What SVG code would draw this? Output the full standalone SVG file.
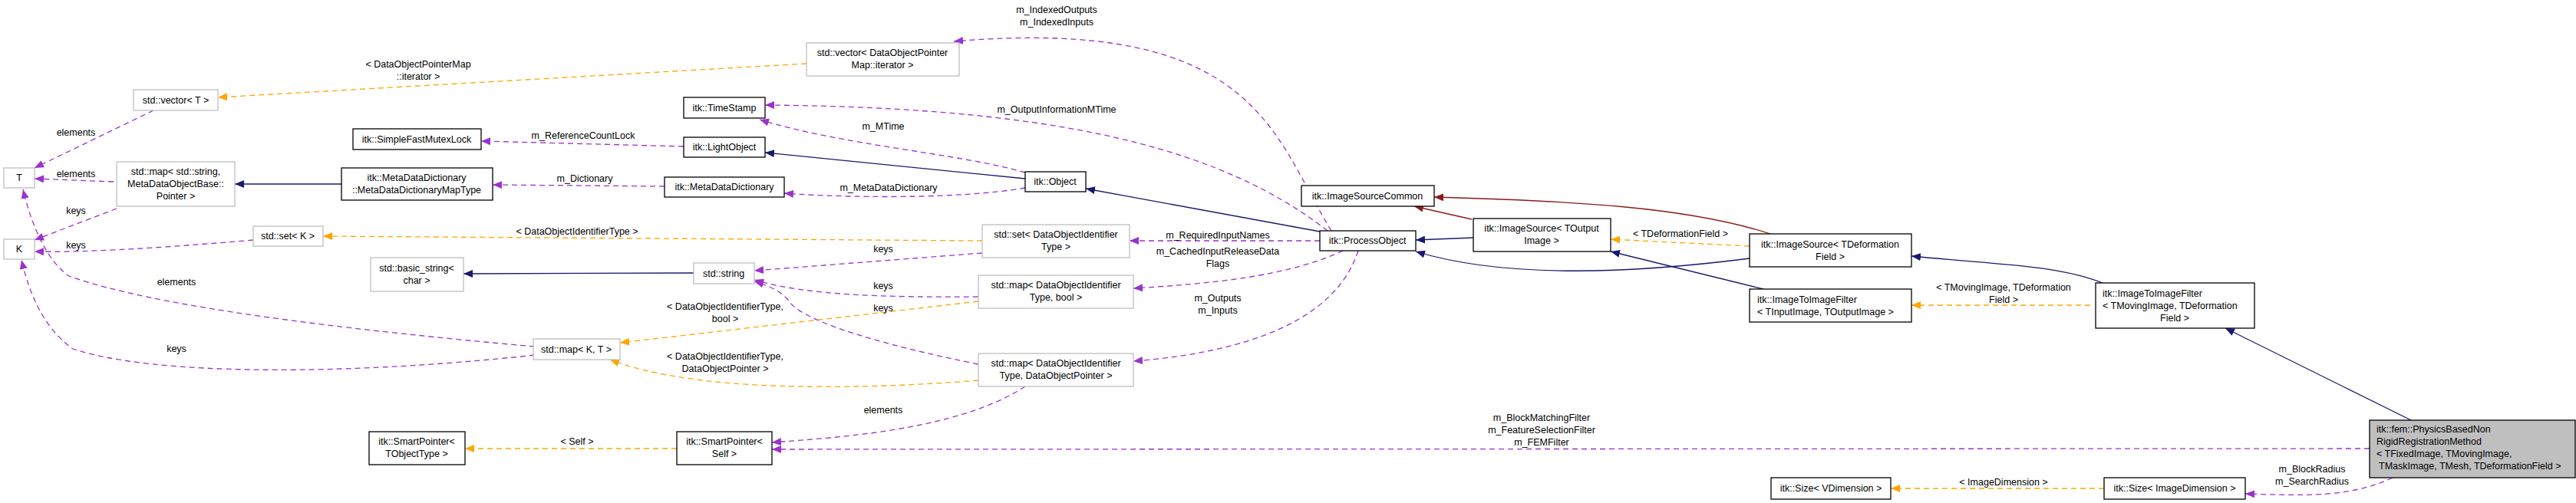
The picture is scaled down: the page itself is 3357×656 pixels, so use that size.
<svg xmlns="http://www.w3.org/2000/svg" width="3357" height="656" viewBox="0 0 3357 656">
<style>
text{font-family:"Liberation Sans",Arial,sans-serif;font-size:12.5px;fill:#000}
.n rect{fill:#fff;stroke:#000;stroke-width:1.3}
.g rect{fill:#fff;stroke:#bfbfbf;stroke-width:1.3}
.c{text-anchor:middle}
.u{fill:none;stroke:#9a32cd;stroke-width:1.3;stroke-dasharray:7,5}
.t{fill:none;stroke:#ffa500;stroke-width:1.3;stroke-dasharray:7,5}
.i{fill:none;stroke:#191970;stroke-width:1.3}
.r{fill:none;stroke:#8b1a1a;stroke-width:1.3}
</style>
<defs>
<marker id="mu" viewBox="0 0 12 10" refX="12" refY="5" markerWidth="12" markerHeight="10" markerUnits="userSpaceOnUse" orient="auto"><path d="M0,0L12,5L0,10z" fill="#9a32cd"/></marker>
<marker id="mt" viewBox="0 0 12 10" refX="12" refY="5" markerWidth="12" markerHeight="10" markerUnits="userSpaceOnUse" orient="auto"><path d="M0,0L12,5L0,10z" fill="#ffa500"/></marker>
<marker id="mi" viewBox="0 0 12 10" refX="12" refY="5" markerWidth="12" markerHeight="10" markerUnits="userSpaceOnUse" orient="auto"><path d="M0,0L12,5L0,10z" fill="#191970"/></marker>
<marker id="mr" viewBox="0 0 12 10" refX="12" refY="5" markerWidth="12" markerHeight="10" markerUnits="userSpaceOnUse" orient="auto"><path d="M0,0L12,5L0,10z" fill="#8b1a1a"/></marker>
</defs>
<g id="edges">
<path class="u" marker-end="url(#mu)" d="M200,144L45,219"/>
<path class="u" marker-end="url(#mu)" d="M148,237L45,233"/>
<path class="u" marker-end="url(#mu)" d="M152,272L45,313"/>
<path class="u" marker-end="url(#mu)" d="M330,313C250,320 120,330 45,328"/>
<path class="u" marker-end="url(#mu)" d="M697,463C450,490 200,490 95,455C60,430 40,390 28,339"/>
<path class="u" marker-end="url(#mu)" d="M697,452C450,430 200,400 90,360C60,340 40,290 30,247"/>
<path class="i" marker-end="url(#mi)" d="M445,240L306,240"/>
<path class="i" marker-end="url(#mi)" d="M904,356L604,357"/>
<path class="u" marker-end="url(#mu)" d="M891,191L627,184"/>
<path class="u" marker-end="url(#mu)" d="M866,243L642,241"/>
<path class="u" marker-end="url(#mu)" d="M1336,225C1250,200 1100,190 990,156"/>
<path class="i" marker-end="url(#mi)" d="M1336,233L997,199"/>
<path class="u" marker-end="url(#mu)" d="M1336,245C1250,260 1100,258 1022,252"/>
<path class="u" marker-end="url(#mu)" d="M1730,301C1600,200 1400,140 997,137"/>
<path class="u" marker-end="url(#mu)" d="M1735,301C1660,180 1640,20 1243,54"/>
<path class="i" marker-end="url(#mi)" d="M1720,302L1415,246"/>
<path class="u" marker-end="url(#mu)" d="M1720,314L1472,314"/>
<path class="u" marker-end="url(#mu)" d="M1750,327C1680,360 1580,370 1477,376"/>
<path class="u" marker-end="url(#mu)" d="M1770,327C1740,420 1620,460 1477,471"/>
<path class="t" marker-end="url(#mt)" d="M1051,83L284,127"/>
<path class="t" marker-end="url(#mt)" d="M1280,314L421,308"/>
<path class="u" marker-end="url(#mu)" d="M1280,330L983,353"/>
<path class="u" marker-end="url(#mu)" d="M1275,387C1150,388 1050,385 983,365"/>
<path class="t" marker-end="url(#mt)" d="M1275,393L808,447"/>
<path class="u" marker-end="url(#mu)" d="M1275,475C1150,450 1050,420 1030,395C1020,380 1000,372 983,367"/>
<path class="t" marker-end="url(#mt)" d="M1275,496C1100,510 900,510 795,469"/>
<path class="u" marker-end="url(#mu)" d="M1336,504C1250,560 1100,570 1006,577"/>
<path class="t" marker-end="url(#mt)" d="M882,585L606,585"/>
<path class="u" marker-end="url(#mu)" d="M3088,585L1006,586"/>
<path class="i" marker-end="url(#mi)" d="M1920,310L1845,313"/>
<path class="r" marker-end="url(#mr)" d="M1918,286L1843,269"/>
<path class="r" marker-end="url(#mr)" d="M2307,305C2200,270 2050,262 1869,257"/>
<path class="i" marker-end="url(#mi)" d="M2280,337C2100,360 1950,360 1845,328"/>
<path class="t" marker-end="url(#mt)" d="M2280,321L2099,312"/>
<path class="i" marker-end="url(#mi)" d="M2298,377L2099,328"/>
<path class="i" marker-end="url(#mi)" d="M2740,369C2680,345 2600,345 2491,334"/>
<path class="t" marker-end="url(#mt)" d="M2724,398L2491,398"/>
<path class="i" marker-end="url(#mi)" d="M3142,548L2900,428"/>
<path class="u" marker-end="url(#mu)" d="M3118,623C3060,650 3000,646 2926,644"/>
<path class="t" marker-end="url(#mt)" d="M2742,637L2464,637"/>
<g class="c">
<text x="99" y="177">elements</text>
<text x="99" y="231">elements</text>
<text x="99" y="279">keys</text>
<text x="99" y="324">keys</text>
<text x="230" y="372">elements</text>
<text x="230" y="459">keys</text>
<text x="545" y="88">&lt; DataObjectPointerMap</text>
<text x="545" y="104">::iterator &gt;</text>
<text x="760" y="181">m_ReferenceCountLock</text>
<text x="762" y="237">m_Dictionary</text>
<text x="1151" y="169">m_MTime</text>
<text x="1158" y="249">m_MetaDataDictionary</text>
<text x="1377" y="17">m_IndexedOutputs</text>
<text x="1377" y="33">m_IndexedInputs</text>
<text x="1377" y="147">m_OutputInformationMTime</text>
<text x="752" y="306">&lt; DataObjectIdentifierType &gt;</text>
<text x="1151" y="329">keys</text>
<text x="1151" y="377">keys</text>
<text x="1151" y="406">keys</text>
<text x="945" y="404">&lt; DataObjectIdentifierType,</text>
<text x="945" y="420">bool &gt;</text>
<text x="945" y="469">&lt; DataObjectIdentifierType,</text>
<text x="945" y="485">DataObjectPointer &gt;</text>
<text x="1151" y="539">elements</text>
<text x="752" y="580">&lt; Self &gt;</text>
<text x="1587" y="311">m_RequiredInputNames</text>
<text x="1587" y="332">m_CachedInputReleaseData</text>
<text x="1587" y="348">Flags</text>
<text x="1587" y="393">m_Outputs</text>
<text x="1587" y="409">m_Inputs</text>
<text x="2190" y="309">&lt; TDeformationField &gt;</text>
<text x="2611" y="379">&lt; TMovingImage, TDeformation</text>
<text x="2611" y="395">Field &gt;</text>
<text x="2009" y="549">m_BlockMatchingFilter</text>
<text x="2009" y="565">m_FeatureSelectionFilter</text>
<text x="2009" y="581">m_FEMFilter</text>
<text x="3013" y="616">m_BlockRadius</text>
<text x="3013" y="632">m_SearchRadius</text>
<text x="2611" y="633">&lt; ImageDimension &gt;</text>
</g>
</g>
<g id="n_T" class="g"><rect x="5" y="219" width="40" height="26"/><text class="c" x="25" y="236">T</text></g>
<g id="n_K" class="g"><rect x="5" y="312" width="40" height="26"/><text class="c" x="25" y="329">K</text></g>
<g id="n_vecT" class="g"><rect x="174" y="117" width="110" height="27"/><text class="c" x="229" y="135">std::vector&lt; T &gt;</text></g>
<g id="n_mapStr" class="g"><rect x="152" y="211" width="154" height="58"/><text class="c" x="229" y="228">std::map&lt; std::string,</text><text class="c" x="229" y="244">MetaDataObjectBase::</text><text class="c" x="229" y="260">Pointer &gt;</text></g>
<g id="n_setK" class="g"><rect x="330" y="295" width="91" height="26"/><text class="c" x="375" y="312">std::set&lt; K &gt;</text></g>
<g id="n_basic" class="g"><rect x="483" y="336" width="121" height="44"/><text class="c" x="543" y="354">std::basic_string&lt;</text><text class="c" x="543" y="370">char &gt;</text></g>
<g id="n_mapKT" class="g"><rect x="695" y="442" width="113" height="27"/><text class="c" x="751" y="460">std::map&lt; K, T &gt;</text></g>
<g id="n_string" class="g"><rect x="904" y="343" width="79" height="27"/><text class="c" x="943" y="361">std::string</text></g>
<g id="n_vecDOP" class="g"><rect x="1051" y="56" width="199" height="43"/><text class="c" x="1150" y="73">std::vector&lt; DataObjectPointer</text><text class="c" x="1150" y="89">Map::iterator &gt;</text></g>
<g id="n_setDOI" class="g"><rect x="1280" y="293" width="192" height="43"/><text class="c" x="1376" y="310">std::set&lt; DataObjectIdentifier</text><text class="c" x="1376" y="326">Type &gt;</text></g>
<g id="n_mapBool" class="g"><rect x="1275" y="359" width="202" height="43"/><text class="c" x="1376" y="376">std::map&lt; DataObjectIdentifier</text><text class="c" x="1376" y="392">Type, bool &gt;</text></g>
<g id="n_mapDOP" class="g"><rect x="1275" y="461" width="202" height="43"/><text class="c" x="1376" y="478">std::map&lt; DataObjectIdentifier</text><text class="c" x="1376" y="494">Type, DataObjectPointer &gt;</text></g>
<g id="n_mutex" class="n"><rect x="460" y="168" width="167" height="27"/><text class="c" x="543" y="186">itk::SimpleFastMutexLock</text></g>
<g id="n_mapType" class="n"><rect x="445" y="219" width="197" height="42"/><text class="c" x="543" y="236">itk::MetaDataDictionary</text><text class="c" x="543" y="252">::MetaDataDictionaryMapType</text></g>
<g id="n_spTO" class="n"><rect x="481" y="563" width="125" height="43"/><text class="c" x="543" y="580">itk::SmartPointer&lt;</text><text class="c" x="543" y="596">TObjectType &gt;</text></g>
<g id="n_spSelf" class="n"><rect x="882" y="563" width="124" height="43"/><text class="c" x="944" y="580">itk::SmartPointer&lt;</text><text class="c" x="944" y="596">Self &gt;</text></g>
<g id="n_ts" class="n"><rect x="891" y="127" width="106" height="27"/><text class="c" x="944" y="145">itk::TimeStamp</text></g>
<g id="n_lo" class="n"><rect x="891" y="179" width="106" height="26"/><text class="c" x="944" y="196">itk::LightObject</text></g>
<g id="n_mdd" class="n"><rect x="866" y="231" width="156" height="26"/><text class="c" x="944" y="248">itk::MetaDataDictionary</text></g>
<g id="n_obj" class="n"><rect x="1336" y="224" width="79" height="26"/><text class="c" x="1375" y="241">itk::Object</text></g>
<g id="n_po" class="n"><rect x="1720" y="301" width="125" height="26"/><text class="c" x="1782" y="318">itk::ProcessObject</text></g>
<g id="n_isc" class="n"><rect x="1696" y="242" width="173" height="27"/><text class="c" x="1782" y="260">itk::ImageSourceCommon</text></g>
<g id="n_isOut" class="n"><rect x="1920" y="285" width="179" height="43"/><text class="c" x="2009" y="302">itk::ImageSource&lt; TOutput</text><text class="c" x="2009" y="318">Image &gt;</text></g>
<g id="n_isDef" class="n"><rect x="2280" y="305" width="211" height="43"/><text class="c" x="2385" y="323">itk::ImageSource&lt; TDeformation</text><text class="c" x="2385" y="339">Field &gt;</text></g>
<g id="n_itiIn" class="n"><rect x="2280" y="377" width="211" height="43"/><text x="2290" y="395">itk::ImageToImageFilter</text><text x="2290" y="411">&lt; TInputImage, TOutputImage &gt;</text></g>
<g id="n_itiMov" class="n"><rect x="2731" y="369" width="207" height="59"/><text x="2740" y="387">itk::ImageToImageFilter</text><text x="2740" y="403">&lt; TMovingImage, TDeformation</text><text class="c" x="2834" y="419">Field &gt;</text></g>
<g id="n_szV" class="n"><rect x="2308" y="623" width="156" height="28"/><text class="c" x="2386" y="641">itk::Size&lt; VDimension &gt;</text></g>
<g id="n_szI" class="n"><rect x="2742" y="623" width="184" height="28"/><text class="c" x="2834" y="641">itk::Size&lt; ImageDimension &gt;</text></g>
<g id="n_main" class="n"><rect x="3088" y="548" width="268" height="75" style="fill:#bfbfbf"/><text x="3097" y="564">itk::fem::PhysicsBasedNon</text><text x="3097" y="580">RigidRegistrationMethod</text><text x="3097" y="596">&lt; TFixedImage, TMovingImage,</text><text x="3100" y="612">TMaskImage, TMesh, TDeformationField &gt;</text></g>
</svg>
